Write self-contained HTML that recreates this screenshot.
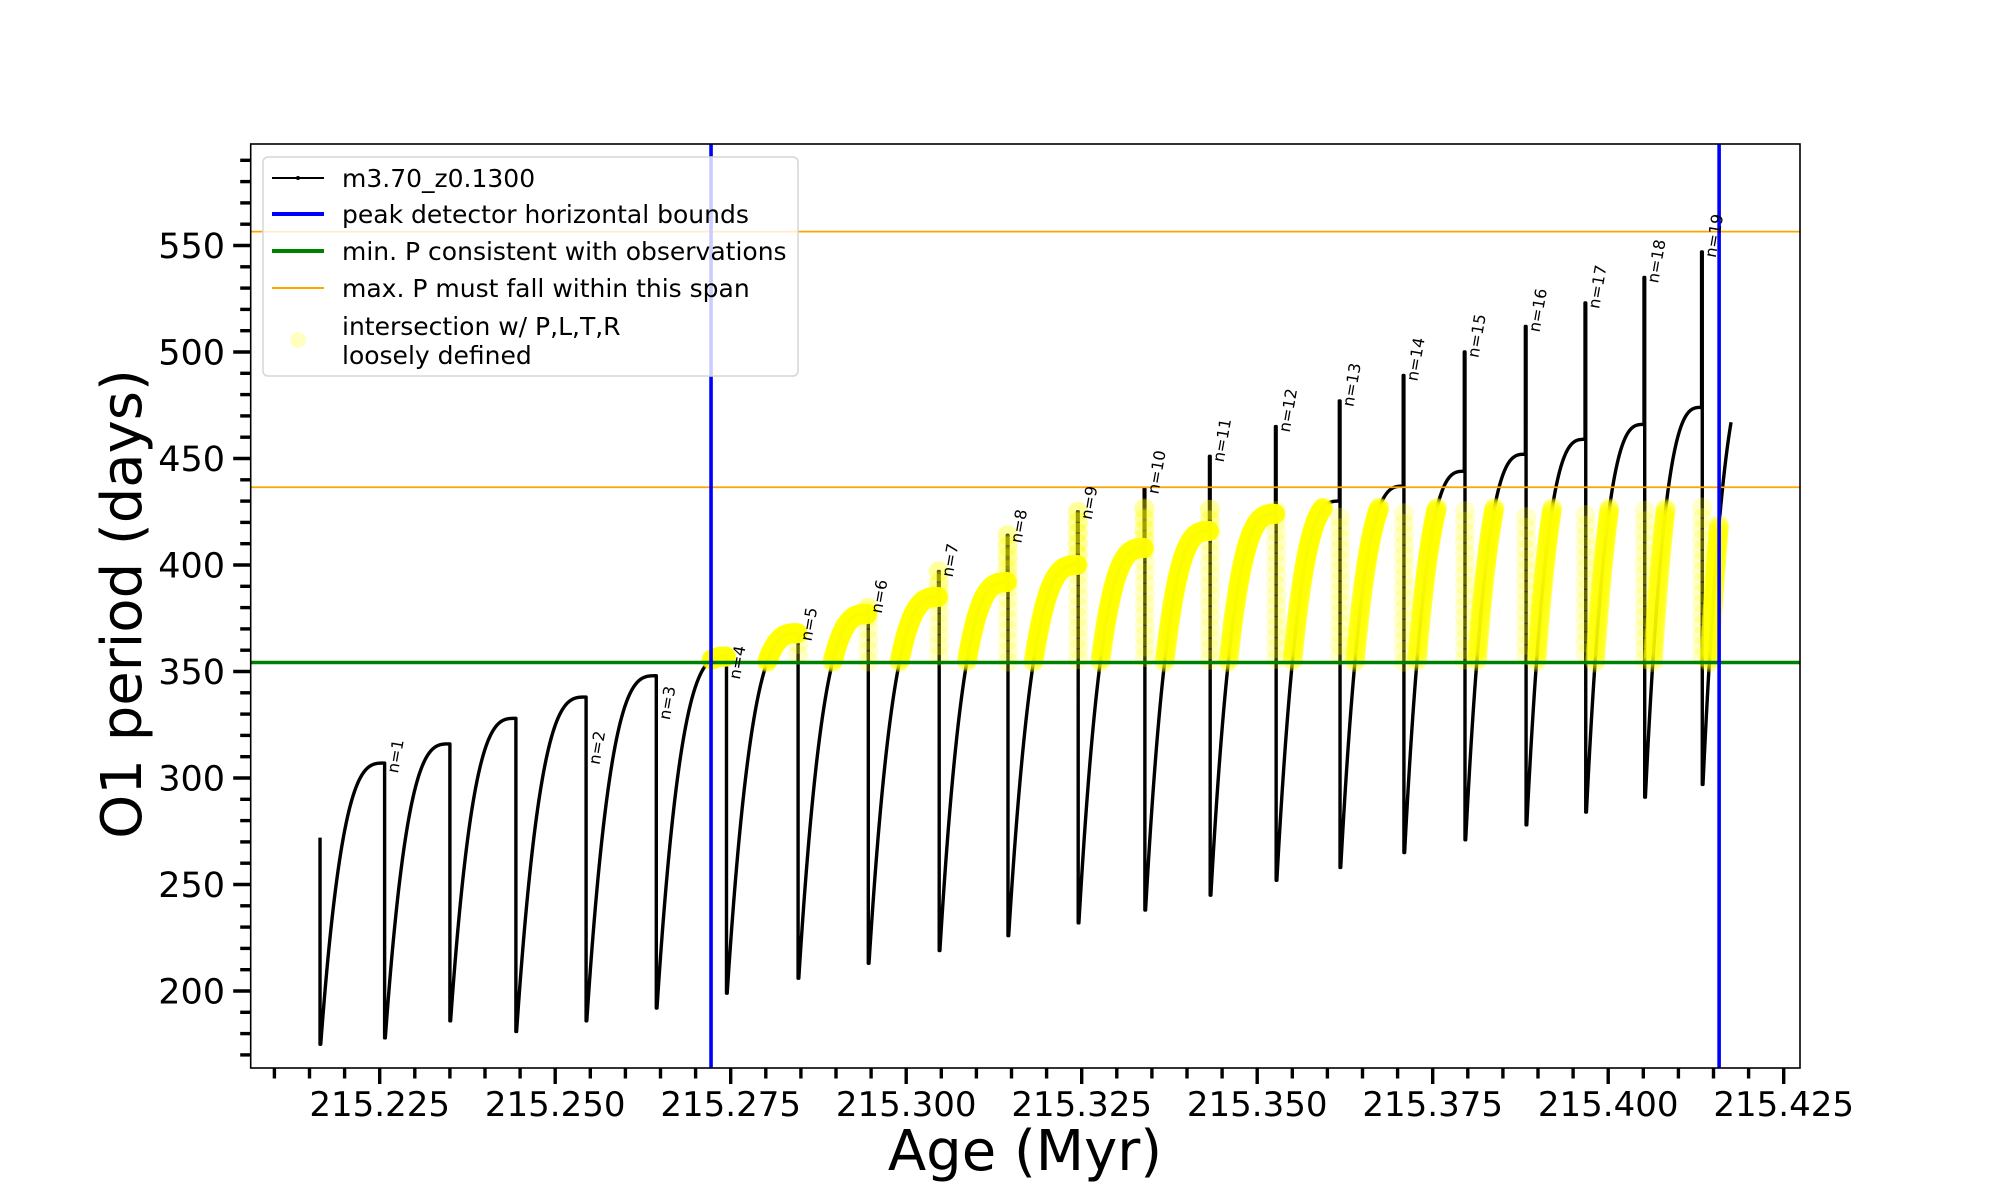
<!DOCTYPE html>
<html><head><meta charset="utf-8">
<style>
html,body{margin:0;padding:0;background:#fff;}
svg{display:block;font-family:"DejaVu Sans","Liberation Sans",sans-serif;}
</style></head>
<body>
<svg id="chart" width="2000" height="1200" viewBox="0 0 2000 1200" xmlns="http://www.w3.org/2000/svg">
<rect x="0" y="0" width="2000" height="1200" fill="#fff"/>
<g id="plot"></g>
<g id="axes"></g>
<text x="1025" y="1170" font-size="56" text-anchor="middle">Age (Myr)</text>
<text transform="translate(141,604) rotate(-90)" font-size="56" text-anchor="middle">O1 period (days)</text>
<g id="legend">
  <rect x="263" y="157" width="535" height="219" rx="5" fill="#fff" fill-opacity="0.8" stroke="#d6d6d6" stroke-width="1.5"/>
  <g>
    <line x1="272" y1="178" x2="324" y2="178" stroke="#000" stroke-width="2"/>
    <circle cx="298" cy="178" r="2" fill="#000"/>
    <text x="342" y="187" font-size="25">m3.70_z0.1300</text>
  </g>
  <g>
    <line x1="272" y1="214" x2="324" y2="214" stroke="#0000ff" stroke-width="4"/>
    <text x="342" y="223" font-size="25">peak detector horizontal bounds</text>
  </g>
  <g>
    <line x1="272" y1="251" x2="324" y2="251" stroke="#008000" stroke-width="4"/>
    <text x="342" y="260" font-size="25">min. P consistent with observations</text>
  </g>
  <g>
    <line x1="272" y1="288" x2="324" y2="288" stroke="#ffa500" stroke-width="2"/>
    <text x="342" y="297" font-size="25">max. P must fall within this span</text>
  </g>
  <g>
    <circle cx="298" cy="340" r="8" fill="#ffff00" fill-opacity="0.25"/>
    <text x="342" y="335" font-size="25">intersection w/ P,L,T,R</text>
    <text x="342" y="364" font-size="25">loosely defined</text>
  </g>
</g>
</svg>
<script>
// ---- data ----
const dropAges = [215.2256,215.2349,215.2443,215.2543,215.2643,215.2743,215.2845,215.2945,215.3046,215.3144,215.3244,215.3339,215.3432,215.3526,215.3617,215.3708,215.3795,215.3882,215.3967,215.4051,215.4133];
const peakVals = [307,316,328,338,348,357,368,377,385,392,400,408,416,424,430,437,444,452,459,466,474];
const spikeVals = [307,316,328,338,348,357,368,380,397,414,425,436,451,465,477,489,500,512,523,535,547];
const minVals = [178,186,181,186,192,199,206,213,219,226,232,238,245,252,258,265,271,278,284,291,297];
const startAge = 215.2165, startVal = 272, startMin = 175;
const endAge = 215.4175, endVal = 467;
const labelIdx = [0,3,4,5,6,7,8,9,10,11,12,13,14,15,16,17,18,19,20];
const labelNums = [1,2,3,4,5,6,7,8,9,10,11,12,13,14,15,16,17,18,19];
const labelVals = [302,306,327,346,364,377,394,410,421,433,448,462,474,486,497,509,520,532,544];
const blueAges = [215.2722, 215.4158];
const greenVal = 354.2;
const orangeVals = [436.5, 556.5];
const yellowBand = [354.2, 427];
const xTicks = [215.225,215.250,215.275,215.300,215.325,215.350,215.375,215.400,215.425];
const xTickLabels = ["215.225","215.250","215.275","215.300","215.325","215.350","215.375","215.400","215.425"];
const yTicks = [200,250,300,350,400,450,500,550];
const yTickLabels = ["200","250","300","350","400","450","500","550"];

// ---- axes functions ----
const X0=250.7, X1=1800, Y0=144, Y1=1068;
function xs(a){ return 379.7 + (a-215.225)/0.025*175.5; }
function ys(v){ return 991 - (v-200)*2.13; }
const NS="http://www.w3.org/2000/svg";
function mk(tag, attrs, parent){
  const e=document.createElementNS(NS,tag);
  for(const k in attrs) e.setAttribute(k,attrs[k]);
  parent.appendChild(e); return e;
}
const plot=document.getElementById('plot'), axes=document.getElementById('axes');
const P=3;
function rise(mn,pk,t){ return mn+(pk-mn)*(1-Math.pow(1-t,P)); }

// ---- build series ----
const pts=[];
function pushRise(a0,a1,mn,pk){
  const N=400;
  for(let k=0;k<=N;k++){ const t=k/N; pts.push([a0+(a1-a0)*t, rise(mn,pk,t)]); }
}
function pushVert(a,v0,v1){
  const N=Math.max(2,Math.round(Math.abs(v1-v0)/5));
  for(let k=0;k<=N;k++) pts.push([a, v0+(v1-v0)*k/N]);
}
pushVert(startAge,startVal,startMin);
pushRise(startAge+0.0001, dropAges[0], startMin, peakVals[0]);
for(let i=0;i<dropAges.length;i++){
  const a=dropAges[i];
  pushVert(a, peakVals[i], spikeVals[i]);
  pushVert(a+0.0001, spikeVals[i], minVals[i]);
  if(i<dropAges.length-1){
    pushRise(a+0.0002, dropAges[i+1], minVals[i], peakVals[i+1]);
  } else {
    const dur=0.0085, tEnd=(endAge-a-0.0002)/dur;
    const f=1-Math.pow(1-tEnd,P);
    const vPeak=minVals[i]+(endVal-minVals[i])/f;
    const N=300;
    for(let k=0;k<=N;k++){ const t=tEnd*k/N; pts.push([a+0.0002+t*dur, rise(minVals[i],vPeak,t)]); }
  }
}

// black series
let d="";
pts.forEach((p,i)=>{ d+=(i?"L":"M")+xs(p[0]).toFixed(2)+","+ys(p[1]).toFixed(2); });
const line=mk('path',{d:d,fill:'none',stroke:'#000','stroke-width':3.4,'stroke-linejoin':'round'},plot);



// yellow intersection markers
const yg=mk('g',{},plot);


pts.forEach(p=>{
  if(p[0]>=blueAges[0] && p[0]<=blueAges[1] && p[1]>=yellowBand[0] && p[1]<=yellowBand[1]){
    const c=mk('circle',{cx:xs(p[0]).toFixed(1),cy:ys(p[1]).toFixed(1),r:10,fill:'#ffff00','fill-opacity':0.22},yg);
    
    
  }
});

// horizontal/vertical reference lines
const gl=mk('line',{x1:X0,x2:X1,y1:ys(greenVal),y2:ys(greenVal),stroke:'#008000','stroke-width':3.5},plot);


orangeVals.forEach(v=>{
  const o=mk('line',{x1:X0,x2:X1,y1:ys(v),y2:ys(v),stroke:'#ffa500','stroke-width':1.8},plot);
  
  
});
blueAges.forEach(a=>{
  const b=mk('line',{x1:xs(a),x2:xs(a),y1:Y0,y2:Y1,stroke:'#0000ff','stroke-width':3.6},plot);
  
  
});

// n labels
labelIdx.forEach((idx,j)=>{
  const x=xs(dropAges[idx])+14, y=ys(labelVals[j]);
  const t=mk('text',{transform:`translate(${x.toFixed(1)},${y.toFixed(1)}) rotate(-80)`,'font-size':16},plot);
  t.textContent='n='+labelNums[j];
  
  
});

// spines
const sp=mk('rect',{x:X0,y:Y0,width:X1-X0,height:Y1-Y0,fill:'none',stroke:'#000','stroke-width':1.6},axes);



// x ticks
for(let k=0;k<=43;k++){
  const a=215.210+k*0.005; const x=xs(a);
  const major=xTicks.some(v=>Math.abs(v-a)<1e-6);
  const t=mk('line',{x1:x,x2:x,y1:Y1,y2:Y1+(major?16:10.5),stroke:'#000','stroke-width':3.4},axes);
  
  
}
xTicks.forEach((a,i)=>{
  const t=mk('text',{x:xs(a),y:1116,'font-size':34,'text-anchor':'middle'},axes);
  t.textContent=xTickLabels[i];
  
  
});
// y ticks
for(let v=170;v<=590;v+=10){
  const y=ys(v); const major=v%50===0;
  const t=mk('line',{x1:X0-(major?17.5:10.5),x2:X0,y1:y,y2:y,stroke:'#000','stroke-width':3.4},axes);
  
  
}
yTicks.forEach((v,i)=>{
  const t=mk('text',{x:225,y:ys(v)+12.5,'font-size':35,'text-anchor':'end'},axes);
  t.textContent=yTickLabels[i];
  
  
});
</script>
</body></html>
